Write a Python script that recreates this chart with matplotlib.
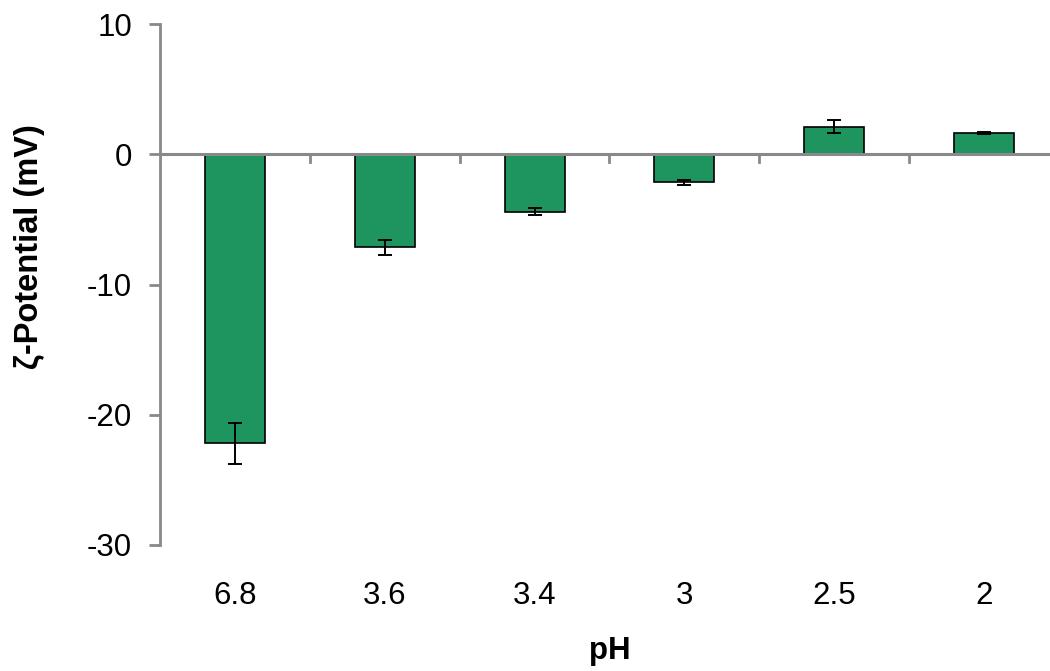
import matplotlib.pyplot as plt
import numpy as np

plt.rcParams['font.family'] = ['Liberation Sans', 'DejaVu Sans']
plt.rcParams['axes.unicode_minus'] = False

ph_labels = ['6.8', '3.6', '3.4', '3', '2.5', '2']
zeta = [-22.2, -7.15, -4.4, -2.15, 2.1, 1.6]
zeta_err = [1.6, 0.6, 0.3, 0.2, 0.5, 0.08]

W, H = 1050, 671
fig = plt.figure(figsize=(W / 100, H / 100), dpi=100)
ax = fig.add_axes([160 / W, 1 - 545 / H, (1059 - 160) / W, (545 - 24) / H])

x = np.arange(len(ph_labels))
ax.bar(x, zeta, width=0.4, color='#1e945f', edgecolor='black', linewidth=1.2, zorder=2)
ax.errorbar(x, zeta, yerr=zeta_err, fmt='none', ecolor='black',
            elinewidth=1.4, capsize=5, capthick=1.4, zorder=3)

gray = '#898989'
ax.axhline(0, color=gray, lw=2.2, zorder=4)
for b in np.arange(0.5, len(ph_labels) - 0.5, 1):
    ax.plot([b, b], [0, -0.6], color=gray, lw=2, zorder=4, clip_on=False)

ax.set_xlim(-0.5, len(ph_labels) - 0.5)
ax.set_ylim(-30, 10)
ax.set_yticks([-30, -20, -10, 0, 10])
ax.set_xticks(x)
ax.set_xticklabels(ph_labels)

for s in ['top', 'right', 'bottom']:
    ax.spines[s].set_visible(False)
ax.spines['left'].set_color(gray)
ax.spines['left'].set_linewidth(2)
ax.tick_params(axis='y', direction='out', length=8, width=2, color=gray,
               labelsize=22.5, pad=12)
ax.tick_params(axis='x', length=0, labelsize=22.5, pad=26)

ax.set_xlabel('pH', fontsize=22.5, fontweight='bold', labelpad=18)
ax.set_ylabel('ζ-Potential (mV)', fontsize=23.5, fontweight='bold')
ax.yaxis.set_label_coords(-0.128, 0.572)

plt.savefig('out.png', dpi=100)
